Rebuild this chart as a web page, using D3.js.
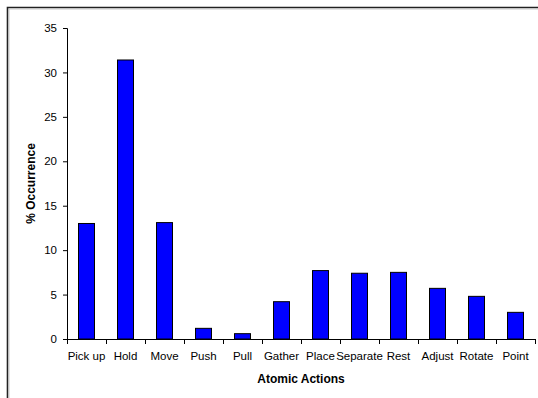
<!DOCTYPE html>
<html><head><meta charset="utf-8">
<script src="https://cdn.jsdelivr.net/npm/d3@7"></script>
<style>body{margin:0;background:#fff;}svg{display:block;font-family:"Liberation Sans",Arial,sans-serif;}</style>
</head><body><svg id="c" width="538" height="398"></svg>
<script>
const categories = ["Pick up","Hold","Move","Push","Pull","Gather","Place","Separate","Rest","Adjust","Rotate","Point"];
const values = [13.0,31.4,13.1,1.2,0.6,4.2,7.7,7.4,7.5,5.7,4.8,3.0];
const yTicks = [0,5,10,15,20,25,30,35];

const svg = d3.select("#c");
// frame
svg.append("path").attr("d","M7.5,398 V7.5 H538").attr("fill","none").attr("stroke","#222").attr("stroke-width",1.6);
svg.append("path").attr("d","M9,398 V9 H538").attr("fill","none").attr("stroke","#bbb").attr("stroke-width",0.8);

const x0 = 67, x1 = 535, yTop = 28, yBot = 339;
const x = d3.scaleBand().domain(categories).range([x0,x1]).paddingInner(0).paddingOuter(0);
const y = d3.scaleLinear().domain([0,35]).range([yBot,yTop]);
const bw = 17;

svg.append("g").selectAll("rect").data(values).join("rect")
  .attr("x",(d,i)=>x(categories[i])+x.bandwidth()/2-bw/2+0.5)
  .attr("y",d=>y(d))
  .attr("width",bw-1)
  .attr("height",d=>yBot-y(d))
  .attr("fill","#0000ff").attr("stroke","#000").attr("stroke-width",1);

// y axis
const ya = svg.append("g").attr("transform",`translate(${x0},0)`)
  .call(d3.axisLeft(y).tickValues(yTicks).tickSize(4).tickPadding(6));
ya.select(".domain").attr("stroke","#000").attr("d",`M-4,${yTop}.5 H0.5 V${yBot}`);
ya.selectAll("text").attr("font-size",11.5).attr("fill","#000").attr("font-family","Liberation Sans, Arial, sans-serif");

// x axis
const xa = svg.append("g").attr("transform",`translate(0,${yBot})`);
xa.append("line").attr("x1",x0).attr("x2",x1).attr("y1",0.5).attr("y2",0.5).attr("stroke","#000");
const bounds = categories.map(c=>x(c)).concat([x1]);
xa.selectAll("line.t").data(bounds).join("line").attr("class","t")
  .attr("x1",d=>Math.round(d)+0.5).attr("x2",d=>Math.round(d)+0.5).attr("y1",0).attr("y2",5).attr("stroke","#000");
xa.selectAll("text").data(categories).join("text")
  .attr("x",d=>x(d)+x.bandwidth()/2).attr("y",20.5)
  .attr("text-anchor","middle").attr("font-size",11.5).attr("fill","#000").text(d=>d);

// axis titles
svg.append("text").attr("x",(x0+x1)/2).attr("y",382.5).attr("text-anchor","middle")
  .attr("font-size",12).attr("font-weight","bold").text("Atomic Actions");
svg.append("text").attr("transform",`translate(34.5,${(yTop+yBot)/2}) rotate(-90)`).attr("text-anchor","middle")
  .attr("font-size",12).attr("font-weight","bold").text("% Occurrence");
</script></body></html>
